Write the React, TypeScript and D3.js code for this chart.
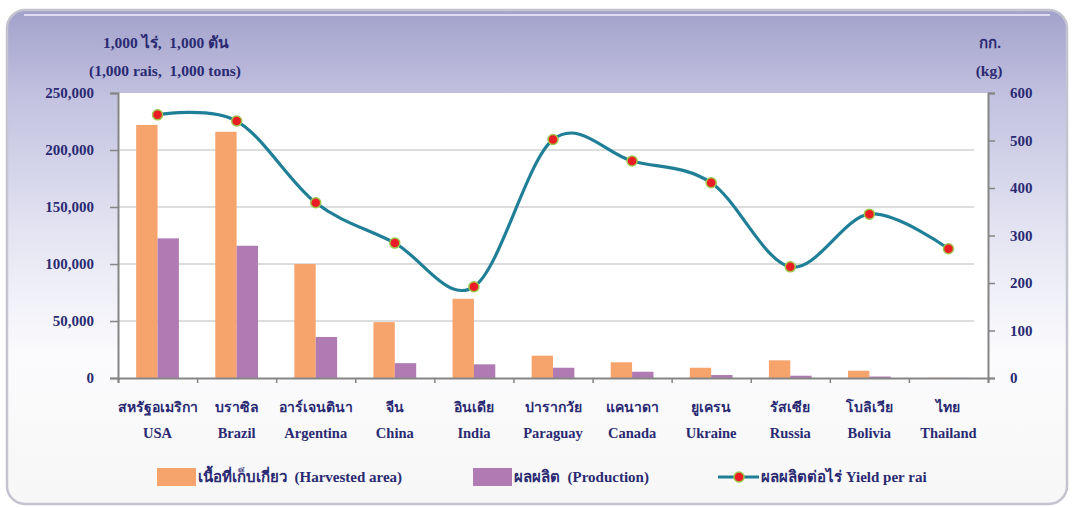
import React, { useEffect, useRef } from "react";
import * as d3 from "d3";

const countriesTh = ["สหรัฐอเมริกา", "บราซิล", "อาร์เจนตินา", "จีน", "อินเดีย", "ปารากวัย", "แคนาดา", "ยูเครน", "รัสเซีย", "โบลิเวีย", "ไทย"];
const countriesEn = ["USA", "Brazil", "Argentina", "China", "India", "Paraguay", "Canada", "Ukraine", "Russia", "Bolivia", "Thailand"];
// 1,000 rai
const harvested = [222000, 216000, 100000, 49000, 69500, 19600, 13800, 9000, 15500, 6400, 200];
// 1,000 tons
const production = [122500, 116000, 36000, 13000, 12000, 9000, 5500, 2600, 2000, 1300, 100];
// kg per rai
const yieldPerRai = [554, 541, 369, 284, 192, 502, 457, 411, 234, 345, 272];
const leftTicks = [0, 50000, 100000, 150000, 200000, 250000];
const rightTicks = [0, 100, 200, 300, 400, 500, 600];

const W = 1072;
const H = 507;
const TXT = "#2a2a72";
const FONT = "'Liberation Serif', 'Times New Roman', serif";

export default function App() {
  const ref = useRef<SVGSVGElement>(null);

  useEffect(() => {
    const svg = d3.select(ref.current);
    svg.selectAll("*").remove();

    const m = { left: 118, right: 988, top: 93, bottom: 378 };

    const defs = svg.append("defs");
    const bg = defs
      .append("linearGradient")
      .attr("id", "bg")
      .attr("x1", 0)
      .attr("y1", 0)
      .attr("x2", 0)
      .attr("y2", 1);
    bg.append("stop").attr("offset", "0").attr("stop-color", "#a2a1cb");
    bg.append("stop").attr("offset", "0.18").attr("stop-color", "#c3c2e0");
    bg.append("stop").attr("offset", "0.45").attr("stop-color", "#e4e4f2");
    bg.append("stop").attr("offset", "0.7").attr("stop-color", "#fbfbfd");
    bg.append("stop").attr("offset", "1").attr("stop-color", "#f7f7f7");

    // panel
    svg.append("rect").attr("width", W).attr("height", H).attr("fill", "#fff");
    svg
      .append("rect")
      .attr("x", 7)
      .attr("y", 10)
      .attr("width", 1060)
      .attr("height", 494)
      .attr("rx", 18)
      .attr("fill", "url(#bg)")
      .attr("stroke", "#c4c4d0")
      .attr("stroke-width", 2.5);
    svg
      .append("line")
      .attr("x1", 24)
      .attr("x2", 1050)
      .attr("y1", 15)
      .attr("y2", 15)
      .attr("stroke", "#dcdcee")
      .attr("stroke-width", 2);

    // plot area
    svg
      .append("rect")
      .attr("x", m.left)
      .attr("y", m.top)
      .attr("width", m.right - m.left)
      .attr("height", m.bottom - m.top)
      .attr("fill", "#fff");

    const x = d3.scaleBand<string>().domain(countriesEn).range([m.left, m.right]);
    const x1 = d3
      .scaleBand<string>()
      .domain(["h", "p"])
      .range([0, x.bandwidth()])
      .paddingOuter(0.85)
      .paddingInner(0);
    const yL = d3.scaleLinear().domain([0, 250000]).range([m.bottom, m.top]);
    const yR = d3.scaleLinear().domain([0, 600]).range([m.bottom, m.top]);

    // gridlines
    svg
      .append("g")
      .selectAll("line")
      .data(leftTicks.filter((t) => t > 0 && t < 250000))
      .join("line")
      .attr("x1", m.left)
      .attr("x2", m.right - 14)
      .attr("y1", (d) => yL(d))
      .attr("y2", (d) => yL(d))
      .attr("stroke", "#d2d2d2")
      .attr("stroke-width", 1.5);

    // bars
    const g = svg
      .append("g")
      .selectAll("g")
      .data(countriesEn)
      .join("g")
      .attr("transform", (d) => `translate(${x(d)},0)`);
    g.append("rect")
      .attr("x", x1("h")!)
      .attr("width", x1.bandwidth())
      .attr("y", (_, i) => yL(harvested[i]))
      .attr("height", (_, i) => m.bottom - yL(harvested[i]))
      .attr("fill", "#f7a46c");
    g.append("rect")
      .attr("x", x1("p")!)
      .attr("width", x1.bandwidth())
      .attr("y", (_, i) => yL(production[i]))
      .attr("height", (_, i) => m.bottom - yL(production[i]))
      .attr("fill", "#b07ab3");

    // axes
    const axisColor = "#858585";
    const left = svg
      .append("g")
      .attr("transform", `translate(${m.left},0)`)
      .call(d3.axisLeft(yL).tickValues(leftTicks).tickSize(8).tickFormat(() => ""));
    const right = svg
      .append("g")
      .attr("transform", `translate(${m.right},0)`)
      .call(d3.axisRight(yR).tickValues(rightTicks).tickSize(7).tickFormat(() => ""));
    const bottom = svg
      .append("g")
      .attr("transform", `translate(0,${m.bottom})`)
      .call(
        d3
          .axisBottom(d3.scaleLinear().domain([0, countriesEn.length]).range([m.left, m.right]))
          .tickValues(d3.range(countriesEn.length + 1))
          .tickSize(5)
          .tickFormat(() => "")
      );
    [left, right, bottom].forEach((a) => {
      a.select(".domain").attr("stroke", axisColor).attr("stroke-width", 2);
      a.selectAll(".tick line").attr("stroke", axisColor).attr("stroke-width", 1.5);
    });

    const txt = (sel: any) =>
      sel
        .attr("font-family", FONT)
        .attr("font-weight", "bold")
        .attr("fill", TXT)
        .style("white-space", "pre");

    // tick labels
    svg
      .append("g")
      .selectAll("text")
      .data(leftTicks)
      .join("text")
      .attr("x", 94)
      .attr("y", (d) => yL(d))
      .attr("dy", "0.35em")
      .attr("text-anchor", "end")
      .attr("font-size", 15)
      .text((d) => d3.format(",")(d))
      .call(txt);
    svg
      .append("g")
      .selectAll("text")
      .data(rightTicks)
      .join("text")
      .attr("x", 1010)
      .attr("y", (d) => yR(d))
      .attr("dy", "0.35em")
      .attr("font-size", 15)
      .text((d) => String(d))
      .call(txt);

    // category labels
    const cx = (d: string) => x(d)! + x.bandwidth() / 2;
    svg
      .append("g")
      .selectAll("text")
      .data(countriesEn)
      .join("text")
      .attr("x", (d) => cx(d))
      .attr("y", 412)
      .attr("text-anchor", "middle")
      .attr("font-size", 14)
      .text((_, i) => countriesTh[i])
      .call(txt);
    svg
      .append("g")
      .selectAll("text")
      .data(countriesEn)
      .join("text")
      .attr("x", (d) => cx(d))
      .attr("y", 438)
      .attr("text-anchor", "middle")
      .attr("font-size", 14.5)
      .text((d) => d)
      .call(txt);

    // axis titles
    svg.append("text").attr("x", 166).attr("y", 48).attr("text-anchor", "middle").attr("font-size", 15.5).text("1,000 ไร่,  1,000 ตัน").call(txt);
    svg.append("text").attr("x", 165).attr("y", 76).attr("text-anchor", "middle").attr("font-size", 15.5).text("(1,000 rais,  1,000 tons)").call(txt);
    svg.append("text").attr("x", 990).attr("y", 48).attr("text-anchor", "middle").attr("font-size", 15).text("กก.").call(txt);
    svg.append("text").attr("x", 989).attr("y", 76).attr("text-anchor", "middle").attr("font-size", 15.5).text("(kg)").call(txt);

    // yield line
    const line = d3
      .line<number>()
      .x((_, i) => cx(countriesEn[i]))
      .y((d) => yR(d))
      .curve(d3.curveCardinal.tension(0));
    svg
      .append("path")
      .attr("d", line(yieldPerRai))
      .attr("fill", "none")
      .attr("stroke", "#1f7f96")
      .attr("stroke-width", 3.2);
    svg
      .append("g")
      .selectAll("circle")
      .data(yieldPerRai)
      .join("circle")
      .attr("cx", (_, i) => cx(countriesEn[i]))
      .attr("cy", (d) => yR(d))
      .attr("r", 5)
      .attr("fill", "#ec1c24")
      .attr("stroke", "#9fc54a")
      .attr("stroke-width", 1.5);

    // legend
    const ly = 477;
    const lg = svg.append("g");
    lg.append("rect").attr("x", 157).attr("y", ly - 9).attr("width", 39).attr("height", 18).attr("fill", "#f7a46c");
    lg.append("text").attr("x", 198).attr("y", ly).attr("dy", "0.35em").attr("font-size", 15).text("เนื้อที่เก็บเกี่ยว  (Harvested area)").call(txt);
    lg.append("rect").attr("x", 473).attr("y", ly - 9).attr("width", 39).attr("height", 18).attr("fill", "#b07ab3");
    lg.append("text").attr("x", 514).attr("y", ly).attr("dy", "0.35em").attr("font-size", 15).text("ผลผลิต  (Production)").call(txt);
    lg.append("line").attr("x1", 718).attr("x2", 759).attr("y1", ly).attr("y2", ly).attr("stroke", "#1f7f96").attr("stroke-width", 3.2);
    lg.append("circle").attr("cx", 739).attr("cy", ly).attr("r", 5).attr("fill", "#ec1c24").attr("stroke", "#9fc54a").attr("stroke-width", 1.5);
    lg.append("text").attr("x", 761).attr("y", ly).attr("dy", "0.35em").attr("font-size", 15).text("ผลผลิตต่อไร่ Yield per rai").call(txt);
  }, []);

  return (
    <svg
      ref={ref}
      width={W}
      height={H}
      style={{ position: "absolute", left: 0, top: 0, display: "block" }}
    />
  );
}
